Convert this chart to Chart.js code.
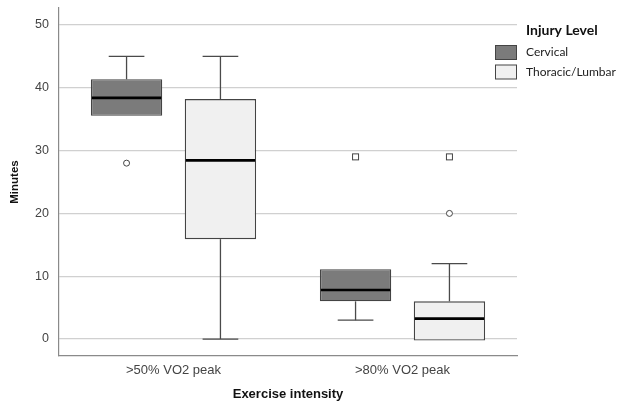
<!DOCTYPE html>
<html><head><meta charset="utf-8">
<script src="https://cdn.jsdelivr.net/npm/chart.js@4/dist/chart.umd.min.js"></script>
<style>html,body{margin:0;padding:0;background:#fff}#wrap{width:617px;height:406px;position:relative}</style>
</head><body><div id="wrap"><canvas id="c" width="617" height="406"></canvas></div>
<script>
const categories = ['>50% VO2 peak', '>80% VO2 peak'];
const seriesNames = ['Cervical', 'Thoracic/Lumbar'];
const cervicalMin = [35.55, 3];
const cervicalQ1 = [35.55, 6];
const cervicalMedian = [38.4, 7.8];
const cervicalQ3 = [41.35, 11.1];
const cervicalMax = [45, 11.1];
const cervicalCircleOutliers = [[28], []];
const cervicalSquareOutliers = [[], [29]];
const thoracicMin = [0, -0.25];
const thoracicQ1 = [15.9, -0.25];
const thoracicMedian = [28.45, 3.25];
const thoracicQ3 = [38.2, 6];
const thoracicMax = [45, 12];
const thoracicCircleOutliers = [[], [20]];
const thoracicSquareOutliers = [[], [29]];
const yTickValues = [0, 10, 20, 30, 40, 50];
const legendTitle = 'Injury Level';
const xTitle = 'Exercise intensity';
const yTitle = 'Minutes';

const series = [
  {min: cervicalMin, q1: cervicalQ1, med: cervicalMedian, q3: cervicalQ3, max: cervicalMax, circ: cervicalCircleOutliers, sq: cervicalSquareOutliers, fill: '#7b7b7b'},
  {min: thoracicMin, q1: thoracicQ1, med: thoracicMedian, q3: thoracicQ3, max: thoracicMax, circ: thoracicCircleOutliers, sq: thoracicSquareOutliers, fill: '#f0f0f0'}
];

const boxPlugin = {
  id: 'boxExtras',
  afterDatasetsDraw(chart) {
    const ctx = chart.ctx; const ys = chart.scales.y;
    series.forEach((s, di) => {
      const meta = chart.getDatasetMeta(di);
      meta.data.forEach((bar, i) => {
        const cx = bar.x, w = bar.width, cap = w / 2;
        ctx.save();
        ctx.strokeStyle = '#4a4a4a'; ctx.lineWidth = 1.3;
        const seg = (x1, y1, x2, y2) => { ctx.beginPath(); ctx.moveTo(x1, y1); ctx.lineTo(x2, y2); ctx.stroke(); };
        if (s.max[i] > s.q3[i]) {
          const yt = ys.getPixelForValue(s.max[i]);
          seg(cx, ys.getPixelForValue(s.q3[i]), cx, yt);
          seg(cx - cap / 2, yt, cx + cap / 2, yt);
        }
        if (s.min[i] < s.q1[i]) {
          const yb = ys.getPixelForValue(s.min[i]);
          seg(cx, ys.getPixelForValue(s.q1[i]), cx, yb);
          seg(cx - cap / 2, yb, cx + cap / 2, yb);
        }
        ctx.strokeStyle = '#000'; ctx.lineWidth = 2.6;
        const ym = ys.getPixelForValue(s.med[i]);
        seg(cx - w / 2 + 1, ym, cx + w / 2 - 1, ym);
        ctx.strokeStyle = '#444'; ctx.lineWidth = 1; ctx.fillStyle = '#fff';
        s.circ[i].forEach(v => {
          ctx.beginPath(); ctx.arc(cx, ys.getPixelForValue(v), 3, 0, Math.PI * 2); ctx.fill(); ctx.stroke();
        });
        s.sq[i].forEach(v => {
          const yy = ys.getPixelForValue(v);
          ctx.fillRect(cx - 3, yy - 3, 6, 6); ctx.strokeRect(cx - 3, yy - 3, 6, 6);
        });
        ctx.restore();
      });
    });
  },
  afterDraw(chart) {
    const ctx = chart.ctx;
    ctx.save();
    ctx.textBaseline = 'middle'; ctx.textAlign = 'left';
    ctx.fillStyle = '#111';
    ctx.font = 'bold 14px Lato, "Open Sans", sans-serif';
    ctx.fillText(legendTitle, 526, 30);
    ctx.font = '12px Lato, "Open Sans", sans-serif';
    chart.data.datasets.forEach((ds, k) => {
      const y0 = 45.5 + k * 19.5;
      ctx.fillStyle = ds.backgroundColor;
      ctx.fillRect(495.5, y0, 21, 14);
      ctx.strokeStyle = '#444'; ctx.lineWidth = 1;
      ctx.strokeRect(495.5, y0, 21, 14);
      ctx.fillStyle = '#222';
      ctx.fillText(ds.label, 526, y0 + 7);
    });
    ctx.restore();
  }
};

new Chart(document.getElementById('c'), {
  type: 'bar',
  data: {
    labels: categories,
    datasets: series.map((s, k) => ({
      label: seriesNames[k],
      data: categories.map((_, i) => [s.q1[i], s.q3[i]]),
      backgroundColor: s.fill,
      borderColor: '#444',
      borderWidth: 1.3,
      borderSkipped: false,
      categoryPercentage: 0.82,
      barPercentage: 0.76
    }))
  },
  options: {
    responsive: false, animation: false, devicePixelRatio: 1,
    layout: {padding: {top: 8, right: 100, left: 0, bottom: 0}},
    plugins: {legend: {display: false}, tooltip: {enabled: false}},
    scales: {
      x: {
        grid: {display: false, drawTicks: false},
        border: {display: true, color: '#8a8a8a', width: 1.2},
        ticks: {padding: 7, color: '#444', font: {family: '"Liberation Sans", Arial, sans-serif', size: 13}},
        title: {display: true, text: xTitle, color: '#111', font: {family: '"Liberation Sans", Arial, sans-serif', size: 13, weight: 'bold'}, padding: {top: 0, bottom: 4}},
        afterFit(scale) { scale.height = 50; scale.paddingLeft = 0; scale.paddingRight = 0; }
      },
      y: {
        min: -2.7, max: 52.7,
        grid: {color: '#d0d0d0', lineWidth: 1.2, drawTicks: false},
        border: {display: true, color: '#8a8a8a', width: 1.2},
        ticks: {stepSize: 10, padding: 10, color: '#444', font: {family: '"Liberation Sans", Arial, sans-serif', size: 12.5}},
        afterBuildTicks(scale) { scale.ticks = yTickValues.map(v => ({value: v})); },
        title: {display: true, text: yTitle, color: '#111', font: {family: '"Liberation Sans", Arial, sans-serif', size: 11.5, weight: 'bold'}, padding: {top: 8, bottom: 0}},
        afterFit(scale) { scale.width = 59; scale.paddingTop = 0; scale.paddingBottom = 0; }
      }
    }
  },
  plugins: [boxPlugin]
});
</script></body></html>
